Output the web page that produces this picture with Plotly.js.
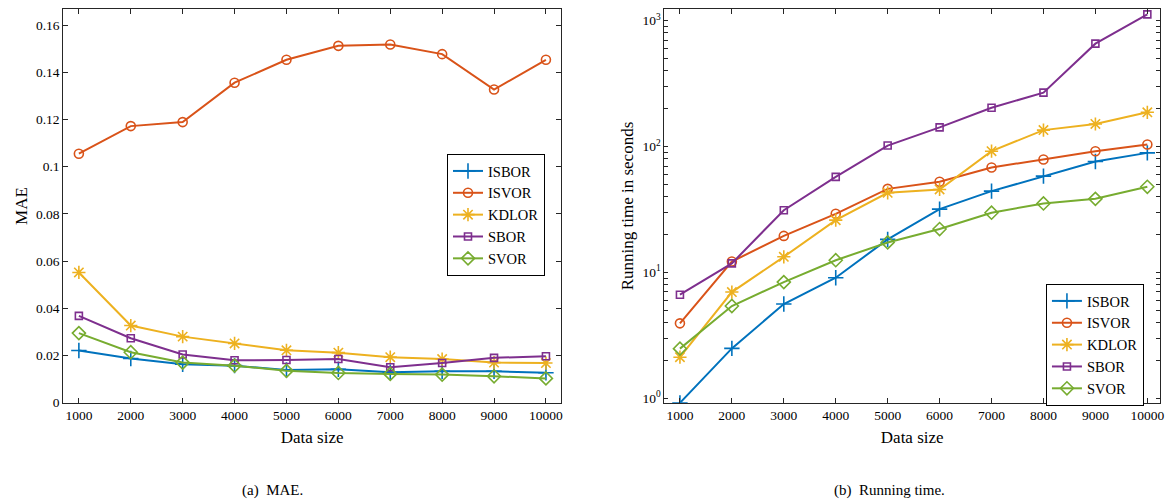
<!DOCTYPE html>
<html><head><meta charset="utf-8">
<script src="https://cdn.plot.ly/plotly-3.0.1.min.js"></script>
<style>html,body{margin:0;padding:0;background:#fff}#chart{width:1168px;height:502px}</style>
</head><body><div id="chart"></div>
<script>
const dataSizes = [1000, 2000, 3000, 4000, 5000, 6000, 7000, 8000, 9000, 10000];
const dataSizeLabels = ['1000', '2000', '3000', '4000', '5000', '6000', '7000', '8000', '9000', '10000'];
const seriesNames = ['ISBOR', 'ISVOR', 'KDLOR', 'SBOR', 'SVOR'];

// (a) MAE
const maeISBOR = [0.0221, 0.0187, 0.0163, 0.0157, 0.0139, 0.0142, 0.0129, 0.0133, 0.0133, 0.0127];
const maeISVOR = [0.1055, 0.1172, 0.1189, 0.1356, 0.1453, 0.1512, 0.1518, 0.1477, 0.1327, 0.1453];
const maeKDLOR = [0.0552, 0.0327, 0.0280, 0.0251, 0.0222, 0.0212, 0.0193, 0.0185, 0.0170, 0.0168];
const maeSBOR  = [0.0368, 0.0273, 0.0204, 0.0180, 0.0181, 0.0185, 0.0150, 0.0168, 0.0190, 0.0197];
const maeSVOR  = [0.0295, 0.0214, 0.0170, 0.0157, 0.0135, 0.0126, 0.0122, 0.0119, 0.0112, 0.0103];

// (b) Running time (seconds)
const timeISBOR = [0.92, 2.49, 5.61, 9.07, 18.3, 31.8, 44.2, 58.2, 76.0, 89.0];
const timeISVOR = [3.94, 12.2, 19.5, 29.2, 46.1, 52.5, 68.1, 78.8, 91.8, 103.7];
const timeKDLOR = [2.12, 6.98, 13.3, 26.0, 42.9, 45.6, 91.8, 135, 151, 187];
const timeSBOR  = [6.65, 11.8, 31.2, 57.4, 101.8, 142, 203, 268, 656, 1122];
const timeSVOR  = [2.48, 5.41, 8.38, 12.5, 17.3, 22.1, 29.8, 35.3, 38.4, 47.9];

const maeTickVals = [0, 0.02, 0.04, 0.06, 0.08, 0.1, 0.12, 0.14, 0.16];
const logTickVals = [1, 10, 100, 1000];
const logTickText = ['10<sup>0</sup>', '10<sup>1</sup>', '10<sup>2</sup>', '10<sup>3</sup>'];
const logMinorTickVals = [2, 3, 4, 5, 6, 7, 8, 9, 20, 30, 40, 50, 60, 70, 80, 90,
                          200, 300, 400, 500, 600, 700, 800, 900];

const colors = ['#0072BD', '#D95319', '#EDB120', '#7E2F8E', '#77AC30'];
const symbols = ['cross-thin-open', 'circle-open', 'asterisk-open', 'square-open', 'diamond-open'];
const sizes = [11, 9, 11, 7, 10];

const maeSeries = [maeISBOR, maeISVOR, maeKDLOR, maeSBOR, maeSVOR];
const timeSeries = [timeISBOR, timeISVOR, timeKDLOR, timeSBOR, timeSVOR];

// all log-axis tick positions: labelled decades plus unlabelled intermediate ticks
const logAllTickVals = logTickVals.concat(logMinorTickVals);
const logAllTickText = logTickText.concat(logMinorTickVals.map(() => ''));

const FONT = "'Liberation Serif', 'Times New Roman', serif";
const AX = '#262626';

const traces = [];
seriesNames.forEach((n, i) => {
  traces.push({
    x: dataSizes, y: maeSeries[i], name: n, type: 'scatter', mode: 'lines+markers',
    xaxis: 'x', yaxis: 'y', legend: 'legend',
    line: {color: colors[i], width: 2},
    marker: {symbol: symbols[i], size: sizes[i], color: colors[i], line: {color: colors[i], width: 1.6}}
  });
});
seriesNames.forEach((n, i) => {
  traces.push({
    x: dataSizes, y: timeSeries[i], name: n, type: 'scatter', mode: 'lines+markers',
    xaxis: 'x2', yaxis: 'y2', legend: 'legend2',
    line: {color: colors[i], width: 2},
    marker: {symbol: symbols[i], size: sizes[i], color: colors[i], line: {color: colors[i], width: 1.6}}
  });
});

const axBase = {
  showline: true, linecolor: AX, linewidth: 1, mirror: 'ticks',
  ticks: 'inside', ticklen: 5, tickcolor: AX, tickwidth: 1,
  showgrid: false, zeroline: false,
  tickfont: {family: FONT, size: 13.5, color: '#000'}
};

const legendBase = {
  bgcolor: '#fff', bordercolor: '#000', borderwidth: 1,
  font: {family: FONT, size: 14.5, color: '#000'},
  xanchor: 'left', yanchor: 'top', tracegroupgap: 0, itemwidth: 30
};

const layout = {
  width: 1168, height: 502,
  margin: {l: 0, r: 0, t: 0, b: 0},
  paper_bgcolor: '#fff', plot_bgcolor: '#fff',
  font: {family: FONT, color: '#000'},
  showlegend: true,
  xaxis: Object.assign({}, axBase, {
    domain: [0.0542, 0.4803], anchor: 'y', range: [700, 10290],
    tickmode: 'array', tickvals: dataSizes, ticktext: dataSizeLabels,
    title: {text: 'Data size', font: {family: FONT, size: 17, color: '#000'}, standoff: 9}
  }),
  yaxis: Object.assign({}, axBase, {
    domain: [0.1978, 0.9815], anchor: 'x', range: [0, 0.1667],
    tickmode: 'array', tickvals: maeTickVals,
    title: {text: 'MAE', font: {family: FONT, size: 17, color: '#000'}, standoff: 4}
  }),
  xaxis2: Object.assign({}, axBase, {
    domain: [0.5688, 0.9932], anchor: 'y2', range: [700, 10245],
    tickmode: 'array', tickvals: dataSizes, ticktext: dataSizeLabels,
    title: {text: 'Data size', font: {family: FONT, size: 17, color: '#000'}, standoff: 9}
  }),
  yaxis2: Object.assign({}, axBase, {
    domain: [0.1978, 0.9815], anchor: 'x2', type: 'log', range: [-0.035, 3.09],
    tickmode: 'array', tickvals: logAllTickVals, ticktext: logAllTickText, ticklen: 4,
    title: {text: 'Running time in seconds', font: {family: FONT, size: 17, color: '#000'}, standoff: 4}
  }),
  legend: Object.assign({}, legendBase, {x: 0.3827, y: 0.6932}),
  legend2: Object.assign({}, legendBase, {x: 0.8955, y: 0.4343}),
  annotations: [
    {text: '(a)\u00a0\u00a0MAE.', xref: 'paper', yref: 'paper', x: 272 / 1168, y: 1 - 490 / 502,
     xanchor: 'center', yanchor: 'middle', showarrow: false, font: {family: FONT, size: 15, color: '#000'}},
    {text: '(b)\u00a0\u00a0Running time.', xref: 'paper', yref: 'paper', x: 889 / 1168, y: 1 - 490 / 502,
     xanchor: 'center', yanchor: 'middle', showarrow: false, font: {family: FONT, size: 15, color: '#000'}}
  ]
};

Plotly.newPlot('chart', traces, layout, {displayModeBar: false, staticPlot: true});
</script>
</body></html>
